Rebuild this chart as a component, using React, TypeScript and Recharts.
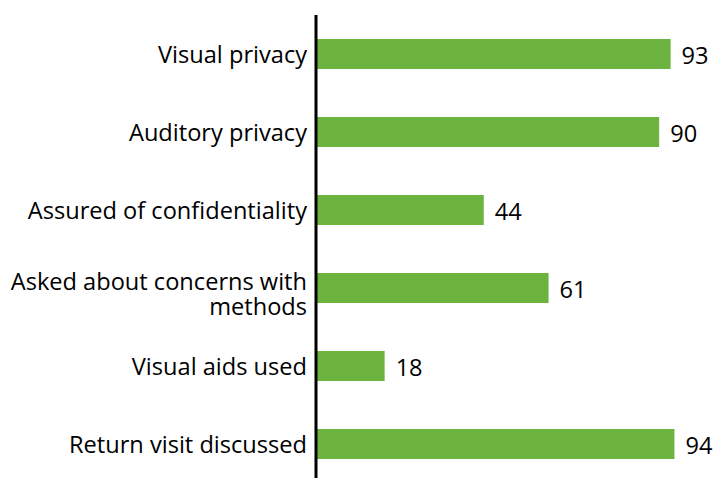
import React from "react";
import { BarChart, Bar, XAxis, YAxis, LabelList } from "recharts";

const categories = [
  "Visual privacy",
  "Auditory privacy",
  "Assured of confidentiality",
  "Asked about concerns with\nmethods",
  "Visual aids used",
  "Return visit discussed",
];
const values = [93, 90, 44, 61, 18, 94];

const data = categories.map((name, i) => ({ name, value: values[i] }));

const FONT = "'Open Sans', sans-serif";
const FS = 23.6;

const CategoryTick = (props: any) => {
  const { x, y, payload } = props;
  const lines = String(payload.value).split("\n");
  if (lines.length === 1) {
    return (
      <text x={x} y={y + 9.3} textAnchor="end" fill="#000" fontFamily={FONT} fontSize={FS}>
        {lines[0]}
      </text>
    );
  }
  return (
    <text x={x} y={y + 1.6} textAnchor="end" fill="#000" fontFamily={FONT} fontSize={FS}>
      {lines.map((l, i) => (
        <tspan key={i} x={x} dy={i === 0 ? 0 : 25.7}>
          {l}
        </tspan>
      ))}
    </text>
  );
};

const ValueLabel = (props: any) => {
  const { x, y, width, height, value } = props;
  return (
    <text x={x + width + 11} y={y + height / 2 + 9.5} textAnchor="start" fill="#000" fontFamily={FONT} fontSize={FS}>
      {value}
    </text>
  );
};

export default function App() {
  return (
    <div style={{ position: "absolute", left: 0, top: 0, width: 713, height: 478, overflow: "hidden", background: "#fff" }}>
      <BarChart
        width={713}
        height={483}
        data={data}
        layout="vertical"
        margin={{ top: 15, right: 15.7, bottom: 0, left: 0 }}
      >
        <XAxis type="number" domain={[0, 100]} hide />
        <YAxis
          type="category"
          dataKey="name"
          width={316}
          axisLine={{ stroke: "#000", strokeWidth: 3 }}
          tickLine={false}
          tickSize={0}
          tickMargin={9}
          tick={<CategoryTick />}
          interval={0}
        />
        <Bar dataKey="value" fill="#6DB33F" barSize={30} isAnimationActive={false}>
          <LabelList dataKey="value" content={<ValueLabel />} />
        </Bar>
      </BarChart>
    </div>
  );
}
